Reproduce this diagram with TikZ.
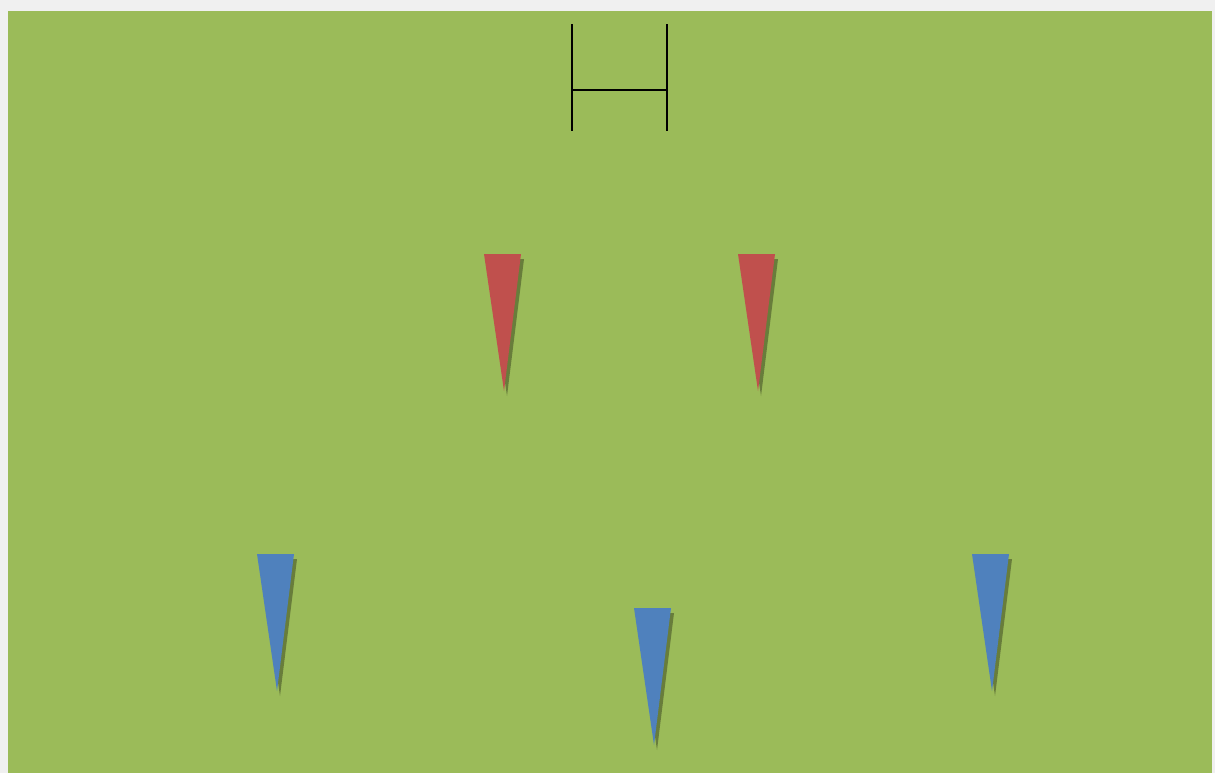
\documentclass[tikz,border=0pt]{standalone}
\usepackage{xcolor}
\usepackage{tikz}
\usetikzlibrary{calc}
\definecolor{pitchgreen}{HTML}{9BBB59}
\definecolor{pagegrey}{HTML}{F0F0F0}
\definecolor{flagred}{HTML}{C0504D}
\definecolor{flagblue}{HTML}{4F81BD}
\tikzset{
  pitch/.style  ={fill=pitchgreen,draw=none},
  post/.style   ={draw=black,line width=1.4pt},
  cone/.style   ={draw=none},
  redcone/.style ={cone,fill=flagred},
  bluecone/.style={cone,fill=flagblue},
  coneshadow/.style={cone,fill=pitchgreen!45!black,opacity=0.6},
}

\begin{document}
\begin{tikzpicture}[x=0.03cm,y=-0.03cm]
  % page and pitch
  \fill[pagegrey] (0,0) rectangle (1215,773);
  \useasboundingbox (0,0) rectangle (1215,773);
  \path[pitch] (8,11) rectangle (1212,773);

  % goal posts
  \coordinate (gl) at (572,24);
  \coordinate (gr) at (667,24);
  \draw[post] (gl) -- ++(0,107);
  \draw[post] (gr) -- ++(0,107);
  \draw[post] ($(gl)+(0,66)$) -- ($(gr)+(0,66)$);

  % cones: top-left corner, colour style
  \foreach \x/\y/\s in {484/254/redcone,738/254/redcone,
                        257/554/bluecone,634/608/bluecone,972/554/bluecone}{
    \fill[coneshadow] (\x+3,\y+5) -- ++(37,0) -- ++(-17,137) -- cycle;
    \fill[\s] (\x,\y) -- ++(37,0) -- ++(-17,137) -- cycle;
  }
\end{tikzpicture}
\end{document}
